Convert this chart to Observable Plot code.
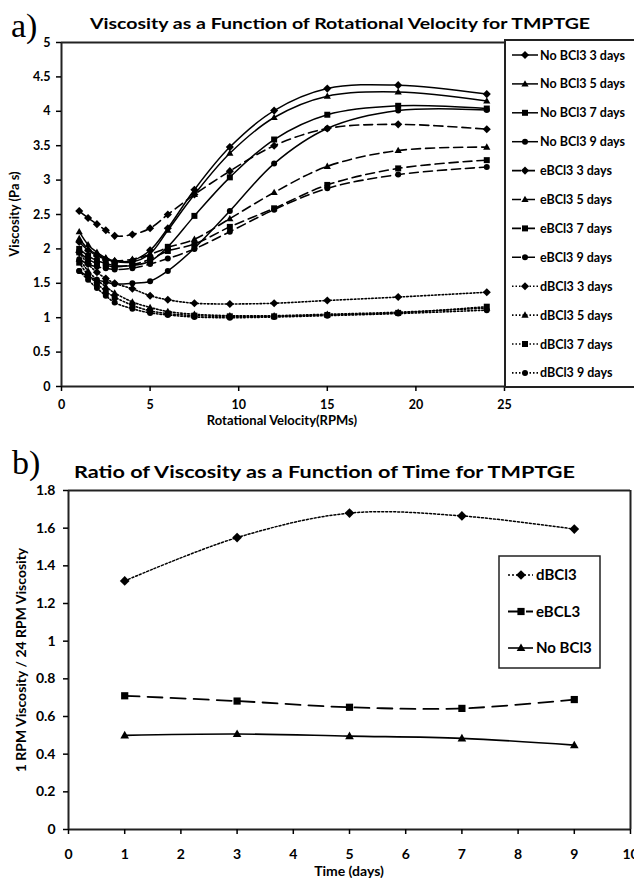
<!DOCTYPE html>
<html><head><meta charset="utf-8">
<script src="https://cdn.jsdelivr.net/npm/d3@7"></script>
<script src="https://cdn.jsdelivr.net/npm/@observablehq/plot@0.6"></script>
<style>
body{margin:0;background:#fff;}
#root{position:relative;width:634px;height:878px;overflow:hidden;background:#fff;}
#root > svg{position:absolute;}
</style></head><body><div id="root"></div>
<script>
// ---------- Chart a data ----------
const rpm = [1, 1.5, 2, 2.5, 3, 4, 5, 6, 7.5, 9.5, 12, 15, 19, 24];
const noBCl3_3d = [2.10,1.98,1.90,1.85,1.82,1.83,1.98,2.30,2.86,3.48,4.01,4.33,4.38,4.25];
const noBCl3_5d = [2.25,2.06,1.95,1.87,1.82,1.81,1.93,2.27,2.79,3.39,3.91,4.22,4.28,4.15];
const noBCl3_7d = [2.00,1.90,1.83,1.79,1.76,1.76,1.82,2.03,2.48,3.04,3.59,3.95,4.08,4.04];
const noBCl3_9d = [1.68,1.60,1.55,1.52,1.49,1.50,1.53,1.68,2.01,2.55,3.24,3.75,4.01,4.02];
const eBCl3_3d  = [2.55,2.45,2.36,2.27,2.19,2.21,2.30,2.50,2.79,3.13,3.50,3.75,3.81,3.74];
const eBCl3_5d  = [2.15,2.00,1.92,1.86,1.83,1.85,1.92,2.02,2.14,2.44,2.82,3.20,3.43,3.48];
const eBCl3_7d  = [1.95,1.85,1.79,1.76,1.74,1.77,1.85,1.97,2.07,2.32,2.59,2.93,3.17,3.29];
const eBCl3_9d  = [1.85,1.78,1.74,1.72,1.70,1.72,1.78,1.86,2.00,2.25,2.57,2.88,3.08,3.19];
const dBCl3_3d  = [1.95,1.78,1.66,1.57,1.50,1.42,1.32,1.26,1.21,1.20,1.21,1.25,1.30,1.37];
const dBCl3_5d  = [1.85,1.68,1.55,1.45,1.36,1.23,1.15,1.09,1.05,1.03,1.03,1.05,1.08,1.14];
const dBCl3_7d  = [1.80,1.62,1.50,1.38,1.30,1.18,1.10,1.06,1.03,1.02,1.02,1.04,1.07,1.16];
const dBCl3_9d  = [1.68,1.55,1.43,1.32,1.22,1.13,1.07,1.04,1.01,1.00,1.01,1.03,1.06,1.11];
const seriesNamesA = ["No BCl3 3 days","No BCl3 5 days","No BCl3 7 days","No BCl3 9 days",
  "eBCl3 3 days","eBCl3 5 days","eBCl3 7 days","eBCl3 9 days",
  "dBCl3 3 days","dBCl3 5 days","dBCl3 7 days","dBCl3 9 days"];
const seriesValuesA = [noBCl3_3d,noBCl3_5d,noBCl3_7d,noBCl3_9d,eBCl3_3d,eBCl3_5d,eBCl3_7d,eBCl3_9d,dBCl3_3d,dBCl3_5d,dBCl3_7d,dBCl3_9d];
const xTicksA = [0, 5, 10, 15, 20, 25];
const yTicksA = [0, 0.5, 1, 1.5, 2, 2.5, 3, 3.5, 4, 4.5, 5];

// ---------- Chart b data ----------
const days = [1, 3, 5, 7, 9];
const ratio_dBCl3  = [1.32, 1.55, 1.68, 1.665, 1.595];
const ratio_eBCL3  = [0.71, 0.682, 0.649, 0.643, 0.69];
const ratio_NoBCl3 = [0.50, 0.507, 0.496, 0.484, 0.448];
const seriesNamesB = ["dBCl3", "eBCL3", "No BCl3"];
const seriesValuesB = [ratio_dBCl3, ratio_eBCL3, ratio_NoBCl3];
const xTicksB = [0,1,2,3,4,5,6,7,8,9,10];
const yTicksB = [0,0.2,0.4,0.6,0.8,1,1.2,1.4,1.6,1.8];

// ---------- styles ----------
const rr = s => Math.sqrt(s / Math.PI);
const SYM = {
  diamond: {draw(c, s){const h=1.35*rr(s); c.moveTo(0,-h); c.lineTo(h,0); c.lineTo(0,h); c.lineTo(-h,0); c.closePath();}},
  triangle: {draw(c, s){const r=rr(s); c.moveTo(0,-1.25*r); c.lineTo(1.2*r,0.85*r); c.lineTo(-1.2*r,0.85*r); c.closePath();}},
  square: {draw(c, s){const h=rr(s); c.rect(-h,-h,2*h,2*h);}},
  circle: {draw(c, s){const r=rr(s); c.moveTo(r,0); c.arc(0,0,r,0,2*Math.PI);}}
};
const symOrder = ["diamond","triangle","square","circle"];
const lineStyleA = {
  solid: {strokeWidth:1.5, strokeDasharray:null},
  dashed: {strokeWidth:1.6, strokeDasharray:"9,5"},
  dotted: {strokeWidth:1.6, strokeDasharray:"1.5,2"}
};
const groupsA = ["solid","dashed","dotted"];
const fmt = d => `${+d.toFixed(2)}`;
const FONT = "Lato, 'Open Sans', sans-serif";

const rowsA = seriesNamesA.flatMap((name, si) => rpm.map((x, i) => ({
  name, group: groupsA[Math.floor(si/4)], sym: symOrder[si%4], x, y: seriesValuesA[si][i]
})));

const root = document.getElementById("root");

const chartA = Plot.plot({
  width: 634, height: 440,
  marginLeft: 61, marginRight: 130, marginTop: 42, marginBottom: 54,
  style: {fontFamily: FONT, fontWeight: "bold", fontSize: "12.5px", background: "transparent", color: "#000"},
  x: {domain: [0, 25]},
  y: {domain: [0, 5]},
  marks: [
    ...groupsA.map(g => Plot.line(rowsA.filter(d => d.group === g), {
      x: "x", y: "y", z: "name", curve: "catmull-rom", stroke: "#000",
      strokeWidth: lineStyleA[g].strokeWidth, strokeDasharray: lineStyleA[g].strokeDasharray
    })),
    ...symOrder.map(k => Plot.dot(rowsA.filter(d => d.sym === k), {
      x: "x", y: "y", symbol: SYM[k], r: 3, fill: "#000", stroke: "none"
    })),
    Plot.ruleY([5], {stroke: "#222", strokeWidth: 2}),
    Plot.ruleY([0], {stroke: "#222", strokeWidth: 2}),
    Plot.ruleX([0], {stroke: "#222", strokeWidth: 2}),
    Plot.axisX({ticks: xTicksA, tickFormat: fmt, tickSize: 5, tickPadding: 9, label: null, strokeWidth: 1.5}),
    Plot.axisY({ticks: yTicksA, tickFormat: fmt, tickSize: 5, tickPadding: 6, label: null, strokeWidth: 1.5})
  ]
});
chartA.style.left = "0px"; chartA.style.top = "0px";
root.appendChild(chartA);

// ---------- Chart b ----------
const symB = ["diamond","square","triangle"];
const lineStyleB = [
  {strokeWidth:1.5, strokeDasharray:"2,2"},
  {strokeWidth:1.8, strokeDasharray:"15,8"},
  {strokeWidth:1.6, strokeDasharray:null}
];
const rowsB = seriesNamesB.flatMap((name, si) => days.map((x, i) => ({name, si, x, y: seriesValuesB[si][i]})));

const chartB = Plot.plot({
  width: 634, height: 448,
  marginLeft: 68, marginRight: 4, marginTop: 60, marginBottom: 49,
  style: {fontFamily: FONT, fontWeight: "bold", fontSize: "14px", background: "transparent", color: "#000"},
  x: {domain: [0, 10]},
  y: {domain: [0, 1.8]},
  marks: [
    ...seriesNamesB.map((n, si) => Plot.line(rowsB.filter(d => d.si === si), {
      x: "x", y: "y", curve: "catmull-rom", stroke: "#000",
      strokeWidth: lineStyleB[si].strokeWidth, strokeDasharray: lineStyleB[si].strokeDasharray
    })),
    ...seriesNamesB.map((n, si) => Plot.dot(rowsB.filter(d => d.si === si), {
      x: "x", y: "y", symbol: SYM[symB[si]], r: 3.6, fill: "#000", stroke: "none"
    })),
    Plot.ruleY([1.8], {stroke: "#222", strokeWidth: 2}),
    Plot.ruleX([10], {stroke: "#222", strokeWidth: 2}),
    Plot.ruleY([0], {stroke: "#222", strokeWidth: 2}),
    Plot.ruleX([0], {stroke: "#222", strokeWidth: 2}),
    Plot.axisX({ticks: xTicksB, tickFormat: fmt, tickSize: 5, tickPadding: 15, label: null, strokeWidth: 1.5}),
    Plot.axisY({ticks: yTicksB, tickFormat: fmt, tickSize: 5, tickPadding: 8, label: null, strokeWidth: 1.5})
  ]
});
chartB.style.left = "0px"; chartB.style.top = "430px";
root.appendChild(chartB);

// ---------- Overlay: titles, axis titles, legends ----------
const NS = "http://www.w3.org/2000/svg";
const ov = document.createElementNS(NS, "svg");
ov.setAttribute("width", 634); ov.setAttribute("height", 878);
ov.style.left = "0px"; ov.style.top = "0px"; ov.style.pointerEvents = "none";
root.appendChild(ov);
function el(tag, attrs, text){
  const e = document.createElementNS(NS, tag);
  for (const k in attrs) e.setAttribute(k, attrs[k]);
  if (text != null) e.textContent = text;
  ov.appendChild(e); return e;
}
function txt(x, y, s, o = {}){
  const a = {x, y, "font-family": o.family || FONT, "font-weight": o.weight || "bold",
    "font-size": o.size || 13, "text-anchor": o.anchor || "start", fill: "#000"};
  if (o.len) { a.textLength = o.len; a.lengthAdjust = "spacingAndGlyphs"; }
  if (o.rotate) a.transform = `rotate(${o.rotate} ${x} ${y})`;
  return el("text", a, s);
}
function sym(kind, x, y, r){
  const p = d3.path(); SYM[kind].draw(p, Math.PI*r*r);
  el("path", {d: p.toString(), transform: `translate(${x},${y})`, fill: "#000"});
}

// chart a texts
txt(11, 37, "a)", {family: "'Liberation Serif', 'DejaVu Serif', serif", weight: "normal", size: 34});
txt(340, 29, "Viscosity as a Function of Rotational Velocity for TMPTGE", {size: 16, anchor: "middle", len: 500});
txt(282, 425, "Rotational Velocity(RPMs)", {size: 13, anchor: "middle"});
txt(19, 214, "Viscosity (Pa s)", {size: 13, anchor: "middle", rotate: -90});

// legend a
el("rect", {x: 505, y: 40, width: 160, height: 347, fill: "none", stroke: "#222", "stroke-width": 2});
seriesNamesA.forEach((name, i) => {
  const y = 55 + i * 28.9;
  const g = groupsA[Math.floor(i/4)];
  const ls = lineStyleA[g];
  const a = {x1: 512, x2: 538, y1: y, y2: y, stroke: "#000", "stroke-width": ls.strokeWidth};
  if (ls.strokeDasharray) a["stroke-dasharray"] = ls.strokeDasharray;
  el("line", a);
  sym(symOrder[i%4], 525, y, 3);
  txt(540, y + 4.5, name, {size: 12.5});
});

// chart b texts
txt(12, 474, "b)", {family: "'Liberation Serif', 'DejaVu Serif', serif", weight: "normal", size: 34});
txt(324.5, 478, "Ratio of Viscosity as a Function of Time for TMPTGE", {size: 17.5, anchor: "middle", len: 501});
txt(349, 876, "Time (days)", {size: 14, anchor: "middle"});
txt(26, 660, "1 RPM Viscosity / 24 RPM Viscosity", {size: 14, anchor: "middle", rotate: -90});

// legend b
el("rect", {x: 499, y: 556, width: 101, height: 112, fill: "none", stroke: "#222", "stroke-width": 1.5});
seriesNamesB.forEach((name, i) => {
  const y = 575 + i * 36.5;
  const ls = lineStyleB[i];
  const a = {x1: 508, x2: 533, y1: y, y2: y, stroke: "#000", "stroke-width": ls.strokeWidth};
  if (ls.strokeDasharray) a["stroke-dasharray"] = i === 1 ? "10,8" : ls.strokeDasharray;
  el("line", a);
  sym(symB[i], 521, y, 3.6);
  txt(536, y + 5, name, {size: 15});
});
</script></body></html>
